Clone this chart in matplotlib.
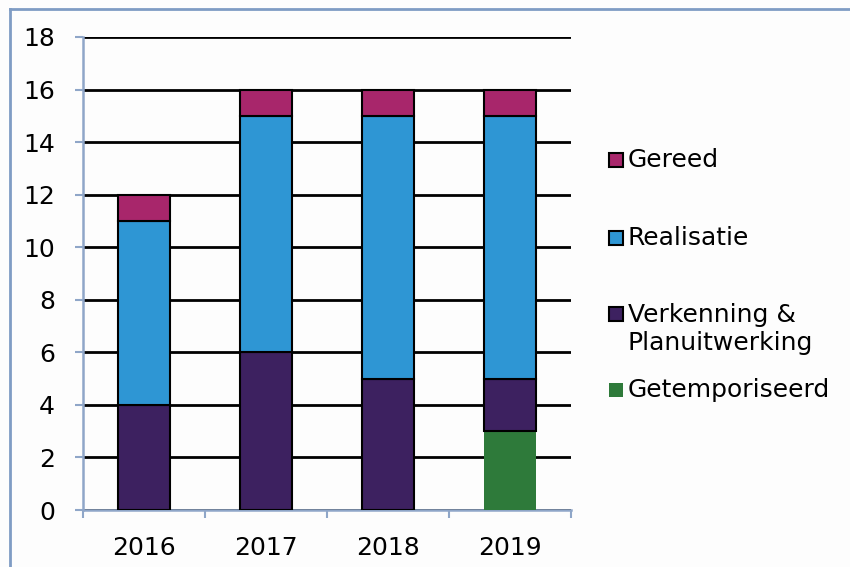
import matplotlib.pyplot as plt
import numpy as np
from matplotlib.lines import Line2D
from matplotlib.patches import Rectangle

# Data
years = ["2016", "2017", "2018", "2019"]
getemporiseerd = [0, 0, 0, 3]
verkenning = [4, 6, 5, 2]
realisatie = [7, 9, 10, 10]
gereed = [1, 1, 1, 1]

legend_labels = ["Gereed", "Realisatie", "Verkenning &\nPlanuitwerking", "Getemporiseerd"]

c_green = "#2E7A3A"
c_purple = "#3D2160"
c_blue = "#2E96D4"
c_magenta = "#A8266B"
axis_col = "#8FA6C8"

plt.rcParams['font.family'] = ['DejaVu Sans']

fig = plt.figure(figsize=(8.5, 5.67), dpi=100)
fig.patch.set_facecolor("#FDFDFD")
ax = fig.add_axes([83 / 850, 1 - 510 / 567, 488 / 850, 473 / 567])
ax.set_facecolor("#FDFDFD")

x = np.arange(len(years))
w = 0.42
b1 = np.array(getemporiseerd)
b2 = b1 + np.array(verkenning)
b3 = b2 + np.array(realisatie)

ax.bar(x, getemporiseerd, w, color=c_green, edgecolor="none", zorder=3)
ax.bar(x, verkenning, w, bottom=b1, color=c_purple, edgecolor="black", linewidth=1.5, zorder=3)
ax.bar(x, realisatie, w, bottom=b2, color=c_blue, edgecolor="black", linewidth=1.5, zorder=3)
ax.bar(x, gereed, w, bottom=b3, color=c_magenta, edgecolor="black", linewidth=1.5, zorder=3)

ax.set_xlim(-0.5, 3.5)
ax.set_ylim(0, 18)
ax.set_yticks(range(0, 19, 2))
ax.set_xticks(x)
ax.set_xticklabels(years)
ax.set_xticks(np.arange(-0.5, 4, 1), minor=True)
ax.tick_params(axis='x', which='major', length=0, labelsize=18, pad=19)
ax.tick_params(axis='x', which='minor', length=6, width=1.5, color=axis_col)
ax.tick_params(axis='y', length=6, width=1.5, color=axis_col, labelsize=18, pad=14)
ax.yaxis.grid(True, color="black", linewidth=2, zorder=1)
ax.set_axisbelow(True)
for s in ["top", "right"]:
    ax.spines[s].set_visible(False)
for s in ["left", "bottom"]:
    ax.spines[s].set_color(axis_col)
    ax.spines[s].set_linewidth(1.8)

# legend drawn by hand to keep the uneven spacing
leg_colors = [c_magenta, c_blue, c_purple, c_green]
leg_edges = ["black", "black", "black", "none"]
leg_y = [160, 238, 329, 390]
for lab, col, ec, yy in zip(legend_labels, leg_colors, leg_edges, leg_y):
    ytop = 314 if "\n" in lab else yy
    fig.add_artist(Rectangle((609 / 850, 1 - (ytop + 7) / 567), 14 / 850, 14 / 567,
                             facecolor=col, edgecolor=ec, linewidth=1.5,
                             transform=fig.transFigure))
    fig.text(628 / 850, 1 - yy / 567, lab, fontsize=18, va="center", ha="left",
             linespacing=1.25)

# frame of the original picture
fig.add_artist(Line2D([10 / 850, 1], [1 - 9 / 567, 1 - 9 / 567], color="#7F9CC4",
                      linewidth=2, transform=fig.transFigure))
fig.add_artist(Line2D([10 / 850, 10 / 850], [0, 1 - 9 / 567], color="#7F9CC4",
                      linewidth=2, transform=fig.transFigure))

fig.savefig("out.png", dpi=100)
